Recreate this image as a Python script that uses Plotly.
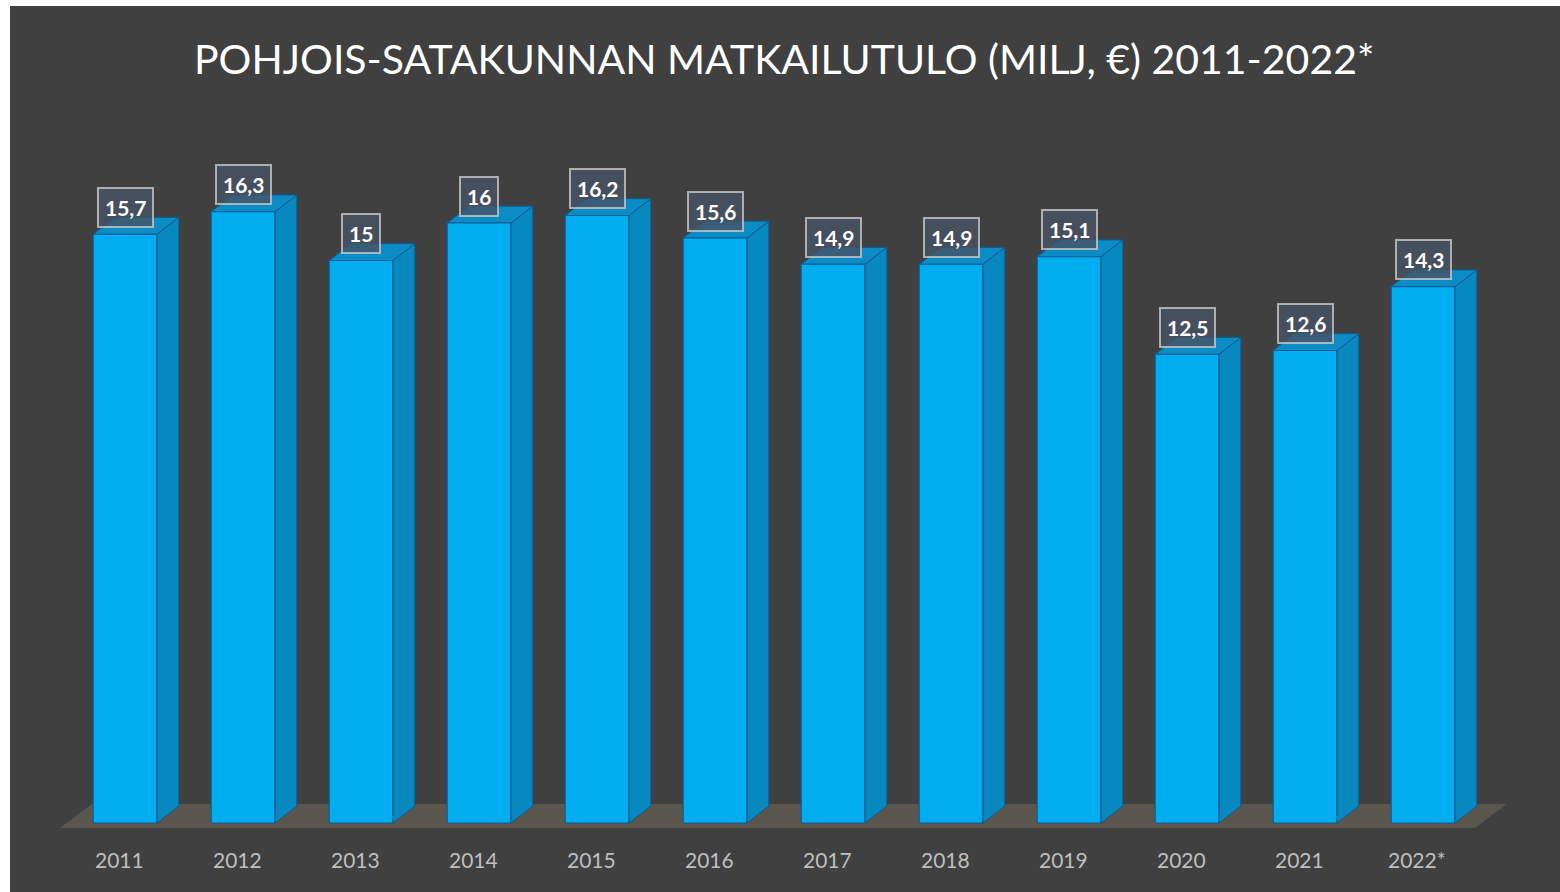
import plotly.graph_objects as go

# Tourism income, northern Satakunta (million €)
years = ["2011", "2012", "2013", "2014", "2015", "2016",
         "2017", "2018", "2019", "2020", "2021", "2022*"]
income = [15.7, 16.3, 15.0, 16.0, 16.2, 15.6, 14.9, 14.9, 15.1, 12.5, 12.6, 14.3]

TITLE = "POHJOIS-SATAKUNNAN MATKAILUTULO (MILJ, €) 2011-2022*"

# pseudo-3D geometry in axis units
BAR_W = 0.54      # front face width
DX = 0.186        # depth offset (x)
DY = 0.45         # depth offset (y)

FRONT = "#00AEEF"
SIDE = "#0788BF"
TOP = "#0B8CC4"
EDGE = "#0D5C96"
FLOOR = "#5A554D"
BG = "#404040"

xs = list(range(len(years)))


def polygons(shape_fn):
    px, py = [], []
    for x, v in zip(xs, income):
        cx, cy = shape_fn(x, v)
        px += cx + [None]
        py += cy + [None]
    return px, py


def side(x, v):
    r = x + BAR_W / 2
    return [r, r + DX, r + DX, r, r], [0, DY, v + DY, v, 0]


def top(x, v):
    l, r = x - BAR_W / 2, x + BAR_W / 2
    return [l, r, r + DX, l + DX, l], [v, v, v + DY, v + DY, v]


def front(x, v):
    l, r = x - BAR_W / 2, x + BAR_W / 2
    return [l, r, r, l, l], [0, 0, v, v, 0]


fig = go.Figure()

# floor slab under the bars
n = len(years)
floor_x = [-0.551, n - 1 + 0.44, n - 1 + 0.71, -0.28, -0.551]
floor_y = [-0.133, -0.133, 0.51, 0.51, -0.133]
fig.add_trace(go.Scatter(x=floor_x, y=floor_y, fill="toself", fillcolor=FLOOR,
                         mode="lines", line=dict(width=0), hoverinfo="skip",
                         showlegend=False))

for fn, col, lw in [(side, SIDE, 1), (top, TOP, 1), (front, FRONT, 1.2)]:
    px, py = polygons(fn)
    fig.add_trace(go.Scatter(x=px, y=py, fill="toself", fillcolor=col,
                             mode="lines", line=dict(color=EDGE, width=lw),
                             hoverinfo="skip", showlegend=False))

# value labels
for x, v in zip(xs, income):
    txt = f"{v:g}".replace(".", ",")
    fig.add_annotation(x=x, y=v, xref="x", yref="y", yshift=27,
                       text=f"<b>{txt}</b>", showarrow=False,
                       font=dict(family="Lato", size=21, color="white"),
                       bgcolor="rgba(70,82,100,0.8)",
                       bordercolor="rgba(200,200,200,0.8)",
                       borderwidth=2, borderpad=6)

# category labels
for x, lab in zip(xs, years):
    fig.add_annotation(x=x - 0.05, y=-0.96, xref="x", yref="y",
                       text=lab, showarrow=False,
                       font=dict(family="Lato", size=21, color="#BFBFBF"))

# pixel-calibrated axes: plot area spans x 10..1560, y 6..892
W, H = 1560, 892
x_px0, x_step = 125, 118
y_px0, y_step = 823, 37.5

fig.add_annotation(x=(784 - 10) / (W - 10), y=1 - (58 - 6) / (H - 6),
                   xref="paper", yref="paper", xanchor="center", yanchor="middle",
                   text=TITLE, showarrow=False,
                   font=dict(family="Lato", size=41, color="white"))

fig.update_xaxes(range=[(10 - x_px0) / x_step, (W - x_px0) / x_step],
                 visible=False, fixedrange=True)
fig.update_yaxes(range=[(y_px0 - H) / y_step, (y_px0 - 6) / y_step],
                 visible=False, fixedrange=True)

fig.update_layout(width=W, height=H,
                  margin=dict(l=10, r=0, t=6, b=0),
                  paper_bgcolor="white", plot_bgcolor=BG)

fig.write_html("out.html", include_plotlyjs=True, full_html=True,
               config=dict(displayModeBar=False))
